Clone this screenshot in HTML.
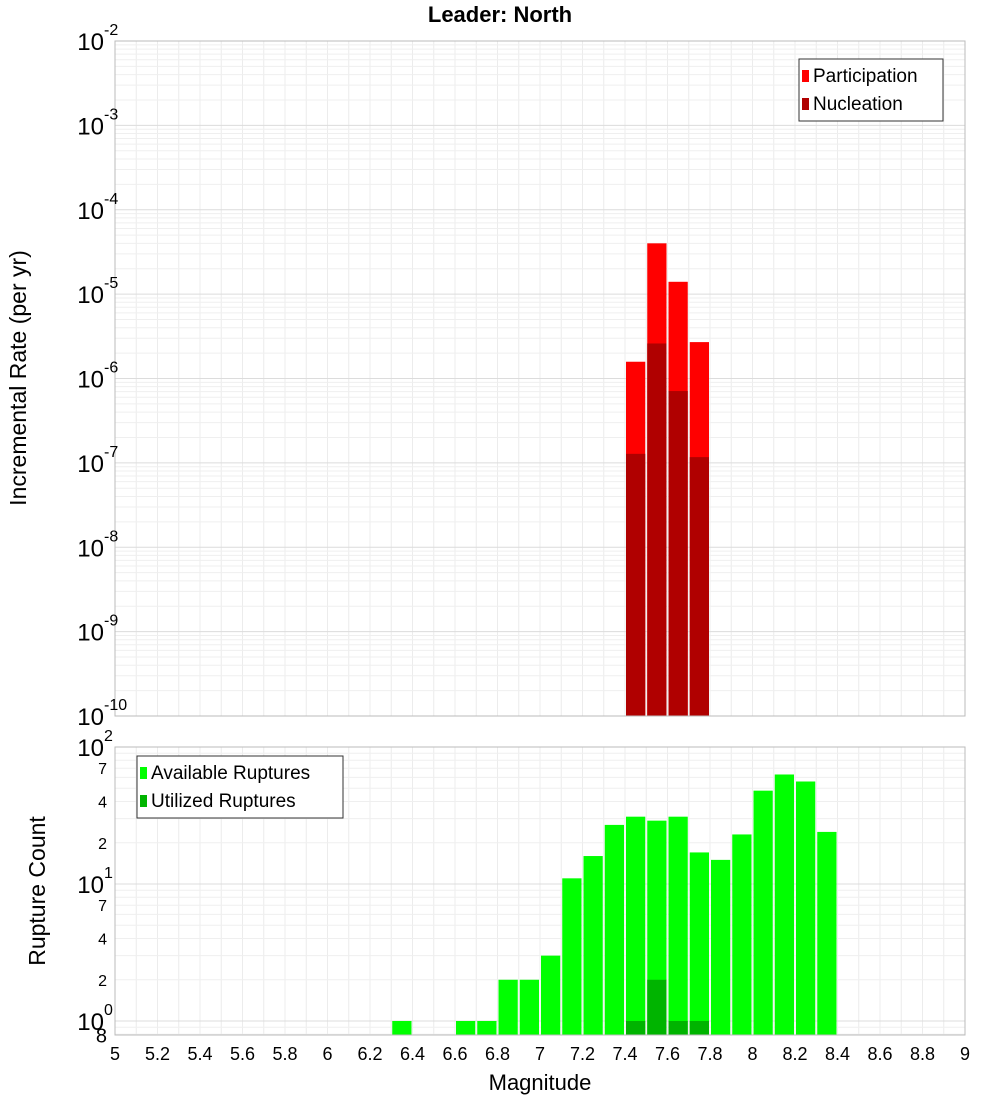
<!DOCTYPE html>
<html><head><meta charset="utf-8"><style>
body{margin:0;background:#fff;}
svg text{font-family:"Liberation Sans","DejaVu Sans",sans-serif;}
</style></head><body>
<svg id="c" width="1000" height="1100" xmlns="http://www.w3.org/2000/svg">
<text x="500" y="22" text-anchor="middle" font-size="22" font-weight="bold">Leader: North</text>
<g id="topg"></g><g id="botg"></g>
<text transform="translate(26,378) rotate(-90)" text-anchor="middle" font-size="23">Incremental Rate (per yr)</text>
<text transform="translate(45,891) rotate(-90)" text-anchor="middle" font-size="23">Rupture Count</text>
<text x="540" y="1090" text-anchor="middle" font-size="22">Magnitude</text>
</svg>
<script>
const binCenters=[6.35,6.65,6.75,6.85,6.95,7.05,7.15,7.25,7.35,7.45,7.55,7.65,7.75,7.85,7.95,8.05,8.15,8.25,8.35];
const availableCounts=[1,1,1,2,2,3,11,16,27,31,29,31,17,15,23,48,63,56,24];
const utilBins=[7.45,7.55,7.65,7.75];
const utilizedCounts=[1,2,1,1];
const rateBins=[7.45,7.55,7.65,7.75];
const participationRates=[1.58e-6,4.0e-5,1.4e-5,2.7e-6];
const nucleationRates=[1.28e-7,2.6e-6,7.1e-7,1.17e-7];
const xTicks=[5,5.2,5.4,5.6,5.8,6,6.2,6.4,6.6,6.8,7,7.2,7.4,7.6,7.8,8,8.2,8.4,8.6,8.8,9];
const topExps=[-2,-3,-4,-5,-6,-7,-8,-9,-10];
const botMinorLabels=[[70,"7"],[40,"4"],[20,"2"],[7,"7"],[4,"4"],[2,"2"],[0.8,"8"]];

const NS="http://www.w3.org/2000/svg";
const X0=115,X1=965;
const xs=m=>X0+(m-5)/4*(X1-X0);
const TT=41,TB=716;
const yt=v=>TT+(-2-Math.log10(v))/8*(TB-TT);
const BT=747,BB=1035,DEC=137;
const yb=v=>BT+(2-Math.log10(v))*DEC;
function mk(p,t,a,txt){const e=document.createElementNS(NS,t);for(const k in a)e.setAttribute(k,a[k]);if(txt!==undefined)e.textContent=txt;p.appendChild(e);return e;}
const gTop=document.getElementById('topg'),gBot=document.getElementById('botg');

for(let m=5;m<=9.0001;m+=0.1){const g1=mk(gTop,'line',{x1:xs(m),x2:xs(m),y1:TT,y2:TB,stroke:'#ececec'});


const g2=mk(gBot,'line',{x1:xs(m),x2:xs(m),y1:BT,y2:BB,stroke:'#ececec'});

}
for(let e=-10;e<-2;e++)for(let k=1;k<10;k++){const y=yt(k*Math.pow(10,e));const g=mk(gTop,'line',{x1:X0,x2:X1,y1:y,y2:y,stroke:k==1?'#dcdcdc':'#efefef'});

}
for(let e=-1;e<2;e++)for(let k=1;k<10;k++){const v=k*Math.pow(10,e);if(v<0.8)continue;const y=yb(v);const g=mk(gBot,'line',{x1:X0,x2:X1,y1:y,y2:y,stroke:k==1?'#dcdcdc':'#efefef'});

}

const bw=(X1-X0)/40;
rateBins.forEach((m,i)=>{
const x=xs(m)-bw/2+1;
const p=mk(gTop,'rect',{x:x,y:yt(participationRates[i]),width:bw-2,height:TB-yt(participationRates[i]),fill:'#ff0000'});


const n=mk(gTop,'rect',{x:x,y:yt(nucleationRates[i]),width:bw-2,height:TB-yt(nucleationRates[i]),fill:'#b00000'});


});
binCenters.forEach((m,i)=>{
const x=xs(m)-bw/2+1;
const b=mk(gBot,'rect',{x:x,y:yb(availableCounts[i]),width:bw-2,height:BB-yb(availableCounts[i]),fill:'#00ff00'});


});
utilBins.forEach((m,i)=>{
const x=xs(m)-bw/2+1;
const b=mk(gBot,'rect',{x:x,y:yb(utilizedCounts[i]),width:bw-2,height:BB-yb(utilizedCounts[i]),fill:'#00b400'});


});

const f1=mk(gTop,'rect',{x:X0,y:TT,width:X1-X0,height:TB-TT,fill:'none',stroke:'#bbb'});


const f2=mk(gBot,'rect',{x:X0,y:BT,width:X1-X0,height:BB-BT,fill:'none',stroke:'#bbb'});



topExps.forEach(e=>{const y=yt(Math.pow(10,e));
const t=mk(gTop,'text',{x:104,y:y+9,'text-anchor':'end','font-size':24});


t.textContent='10';
const s=mk(gTop,'text',{x:104,y:y-6,'font-size':16},String(e));

});
[[100,'2'],[10,'1'],[1,'0']].forEach(([v,e])=>{const y=yb(v);
const t=mk(gBot,'text',{x:104,y:y+9,'text-anchor':'end','font-size':24},'10');


const s=mk(gBot,'text',{x:104,y:y-6,'font-size':16},e);

});
botMinorLabels.forEach(([v,l])=>{const y=yb(v);
const t=mk(gBot,'text',{x:107,y:y+(v<1?8:6),'text-anchor':'end','font-size':v<1?20:16},l);

});
xTicks.forEach(m=>{const t=mk(gBot,'text',{x:xs(m),y:1060,'text-anchor':'middle','font-size':18},String(m));

});

function legend(p,x,y,w,items,name){const g=mk(p,'g',{});


mk(g,'rect',{x:x,y:y,width:w,height:items.length*28+6,fill:'#fff',stroke:'#333'});
items.forEach(([c,l],i)=>{mk(g,'rect',{x:x+3,y:y+11+i*28,width:7,height:12,fill:c});
const t=mk(g,'text',{x:x+14,y:y+23+i*28,'font-size':19},l);

});}
legend(gTop,799,59,144,[['#ff0000','Participation'],['#b00000','Nucleation']],'top-legend');
legend(gBot,137,756,206,[['#00ff00','Available Ruptures'],['#00b400','Utilized Ruptures']],'bottom-legend');
</script>
</body></html>
